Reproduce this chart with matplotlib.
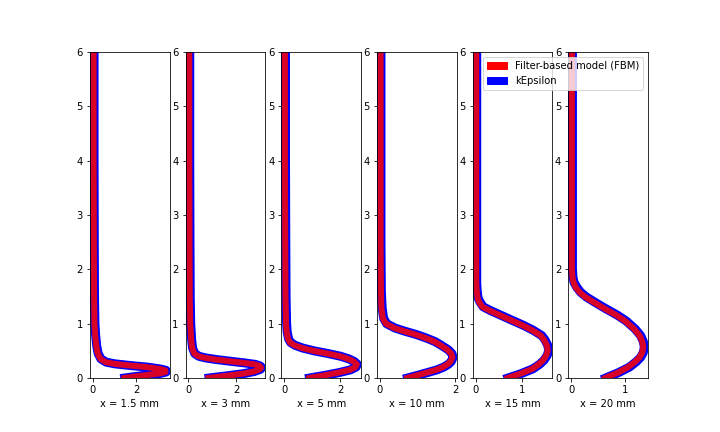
import matplotlib
matplotlib.use("Agg")
import matplotlib.pyplot as plt
from matplotlib.patches import Patch

# stations along the wall
stations = ["x = 1.5 mm", "x = 3 mm", "x = 5 mm", "x = 10 mm", "x = 15 mm", "x = 20 mm"]

# wall-normal positions per station
y_15 = [0, 0.03, 0.06, 0.085, 0.11, 0.14, 0.165, 0.2, 0.23, 0.26, 0.29, 0.35, 0.45, 0.6, 0.8, 1.0, 1.5, 2.5, 4, 6]
y_3 = [0, 0.04, 0.08, 0.12, 0.16, 0.19, 0.22, 0.25, 0.28, 0.31, 0.34, 0.37, 0.40, 0.45, 0.55, 0.7, 1.0, 1.5, 2.5, 4, 6]
y_5 = [0, 0.05, 0.1, 0.15, 0.2, 0.25, 0.3, 0.35, 0.4, 0.45, 0.5, 0.55, 0.6, 0.65, 0.72, 0.85, 1.0, 1.5, 2.5, 4, 6]
y_10 = [0, 0.05, 0.1, 0.15, 0.2, 0.25, 0.3, 0.38, 0.45, 0.52, 0.6, 0.67, 0.74, 0.8, 0.86, 0.92, 1.0, 1.1, 1.3, 1.6, 2.5, 4, 6]
y_15mm = [0, 0.08, 0.17, 0.25, 0.33, 0.42, 0.51, 0.6, 0.7, 0.78, 0.88, 0.97, 1.06, 1.16, 1.24, 1.31, 1.4, 1.47, 1.6, 1.75, 2.0, 3, 4, 6]
y_20 = [0, 0.1, 0.2, 0.3, 0.38, 0.47, 0.57, 0.67, 0.78, 0.9, 1.05, 1.16, 1.27, 1.38, 1.49, 1.58, 1.67, 1.76, 1.85, 2.0, 2.2, 3, 4, 6]

# Filter-based model profiles
fbm_15 = [1.45, 2.0, 2.6, 3.1, 3.35, 3.35, 3.1, 2.5, 1.7, 1.0, 0.6, 0.35, 0.22, 0.15, 0.1, 0.07, 0.05, 0.04, 0.03, 0.03]
fbm_3 = [0.85, 1.6, 2.3, 2.75, 3.0, 3.05, 3.0, 2.8, 2.3, 1.7, 1.15, 0.7, 0.42, 0.25, 0.16, 0.12, 0.08, 0.06, 0.05, 0.04, 0.04]
fbm_5 = [0.9, 1.45, 1.95, 2.35, 2.55, 2.6, 2.5, 2.3, 2.0, 1.55, 1.05, 0.65, 0.38, 0.22, 0.14, 0.09, 0.07, 0.05, 0.04, 0.03, 0.03]
fbm_10 = [0.73, 1.0, 1.25, 1.5, 1.68, 1.8, 1.88, 1.93, 1.9, 1.8, 1.62, 1.45, 1.2, 0.95, 0.65, 0.38, 0.16, 0.08, 0.04, 0.03, 0.02, 0.02, 0.02]
fbm_15mm = [0.69, 0.97, 1.23, 1.36, 1.46, 1.53, 1.56, 1.54, 1.48, 1.41, 1.22, 1.01, 0.77, 0.51, 0.3, 0.14, 0.07, 0.04, 0.02, 0.01, 0.01, 0.01, 0.01, 0.01]
fbm_20 = [0.63, 0.87, 1.06, 1.19, 1.27, 1.32, 1.34, 1.32, 1.27, 1.17, 1.0, 0.83, 0.63, 0.44, 0.26, 0.15, 0.08, 0.04, 0.02, 0.01, 0.01, 0.01, 0.01, 0.01]

# kEpsilon profiles (almost on top of FBM)
ke_15 = [1.47, 2.02, 2.62, 3.12, 3.38, 3.38, 3.12, 2.52, 1.72, 1.02, 0.62, 0.37, 0.24, 0.17, 0.12, 0.09, 0.07, 0.06, 0.05, 0.05]
ke_3 = [0.87, 1.62, 2.32, 2.77, 3.02, 3.08, 3.02, 2.82, 2.32, 1.72, 1.17, 0.72, 0.44, 0.27, 0.18, 0.14, 0.1, 0.08, 0.07, 0.06, 0.06]
ke_5 = [0.91, 1.47, 1.97, 2.37, 2.57, 2.62, 2.52, 2.32, 2.02, 1.57, 1.07, 0.67, 0.4, 0.24, 0.16, 0.11, 0.09, 0.07, 0.06, 0.05, 0.05]
ke_10 = [0.74, 1.01, 1.27, 1.52, 1.7, 1.82, 1.9, 1.95, 1.92, 1.82, 1.64, 1.47, 1.22, 0.97, 0.67, 0.4, 0.18, 0.1, 0.06, 0.04, 0.03, 0.03, 0.03]
ke_15mm = [0.7, 0.98, 1.24, 1.38, 1.48, 1.55, 1.58, 1.56, 1.5, 1.43, 1.24, 1.03, 0.79, 0.53, 0.32, 0.16, 0.09, 0.05, 0.03, 0.02, 0.02, 0.02, 0.02, 0.02]
ke_20 = [0.64, 0.88, 1.08, 1.21, 1.29, 1.34, 1.36, 1.34, 1.29, 1.19, 1.02, 0.85, 0.65, 0.46, 0.28, 0.17, 0.1, 0.05, 0.03, 0.02, 0.02, 0.02, 0.02, 0.02]

y_all = [y_15, y_3, y_5, y_10, y_15mm, y_20]
fbm_all = [fbm_15, fbm_3, fbm_5, fbm_10, fbm_15mm, fbm_20]
ke_all = [ke_15, ke_3, ke_5, ke_10, ke_15mm, ke_20]

fig, axes = plt.subplots(1, 6, figsize=(10, 6), dpi=72)
fig.subplots_adjust(bottom=0.125)

for ax, name, y, u_fbm, u_ke in zip(axes, stations, y_all, fbm_all, ke_all):
    # kEpsilon underneath, FBM on top
    ax.plot(u_ke, y, color="blue", linewidth=9)
    ax.plot(u_fbm, y, color="red", linewidth=6, alpha=0.85)
    ax.set_ylim(0, 6)
    ax.set_xlabel(name)

handles = [Patch(color="red", label="Filter-based model (FBM)"),
           Patch(color="blue", label="kEpsilon")]
axes[-1].legend(handles=handles, loc="upper right")

plt.savefig("out.png", dpi=72)
plt.close()
